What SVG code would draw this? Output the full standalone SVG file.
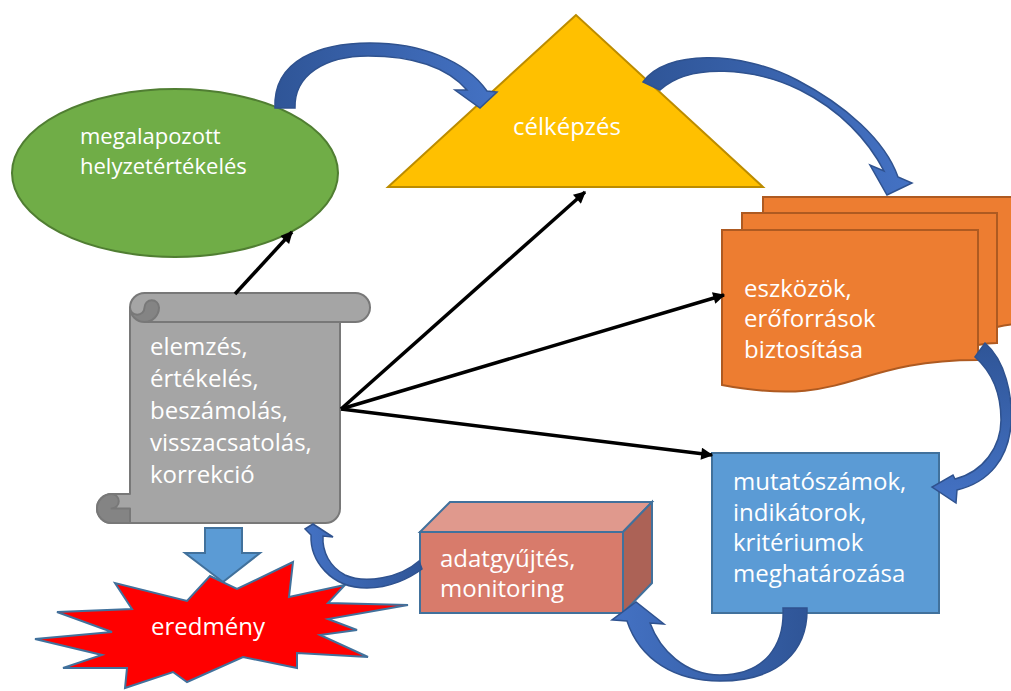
<svg xmlns="http://www.w3.org/2000/svg" width="1011" height="691" viewBox="0 0 1011 691">
<defs>
<style>
.t{font-family:"Open Sans","Liberation Sans",sans-serif;font-size:24px;fill:#ffffff}
.conn{stroke:#000;stroke-width:3.5;fill:none;marker-end:url(#ah)}
.barrow{stroke:#2F528F;stroke-width:1.5;stroke-linejoin:miter}
</style>
<marker id="ah" viewBox="0 0 10 10" refX="9" refY="5" markerWidth="14" markerHeight="12" markerUnits="userSpaceOnUse" orient="auto">
<path d="M0,0 L10,5 L0,10 Z" fill="#000"/>
</marker>
<linearGradient id="gR" x1="0" y1="0" x2="1" y2="0"><stop offset="0" stop-color="#2F5597"/><stop offset="1" stop-color="#4472C4"/></linearGradient>
<linearGradient id="gL" x1="1" y1="0" x2="0" y2="0"><stop offset="0" stop-color="#2F5597"/><stop offset="1" stop-color="#4472C4"/></linearGradient>
<linearGradient id="gD" x1="0" y1="0" x2="0" y2="1"><stop offset="0" stop-color="#2F5597"/><stop offset="1" stop-color="#4472C4"/></linearGradient>
</defs>
<rect width="1011" height="691" fill="#ffffff"/>

<g id="node-helyzetertekeles">
<ellipse cx="175" cy="173" rx="163" ry="84" fill="#70AD47" stroke="#507E32" stroke-width="2"/>
<text class="t" style="font-size:22px"><tspan x="80" y="144">megalapozott</tspan><tspan x="80" y="174">helyzetértékelés</tspan></text>
</g>

<g id="node-celkepzes">
<polygon points="576,15 388,187 763,187" fill="#FFC000" stroke="#BC8C00" stroke-width="2"/>
<text class="t" x="567" y="135" text-anchor="middle">célképzés</text>
</g>

<g id="node-eszkozok">
<path d="M763,213 L763,197 L1020,197 L1020,324 C1009,324 997,327 997,327 L997,213 Z" fill="#ED7D31" stroke="#AE5A21" stroke-width="2"/>
<path d="M742,230 L742,213 L997,213 L997,343 C987,343 978,345 978,345 L978,230 Z" fill="#ED7D31" stroke="#AE5A21" stroke-width="2"/>
<path d="M722,230 L978,230 L978,360 C850,360 850,409 722,385 Z" fill="#ED7D31" stroke="#AE5A21" stroke-width="2"/>
<text class="t"><tspan x="744" y="297">eszközök,</tspan><tspan x="744" y="327">erőforrások</tspan><tspan x="744" y="358">biztosítása</tspan></text>
</g>

<g id="node-mutatoszamok">
<rect x="712" y="453" width="227" height="160" fill="#5B9BD5" stroke="#41719C" stroke-width="2"/>
<text class="t"><tspan x="733" y="490">mutatószámok,</tspan><tspan x="733" y="521">indikátorok,</tspan><tspan x="733" y="551">kritériumok</tspan><tspan x="733" y="582">meghatározása</tspan></text>
</g>

<g id="node-adatgyujtes">
<polygon points="420,532 623,532 623,613 420,613" fill="#D87B6B" stroke="#41719C" stroke-width="2"/>
<polygon points="420,532 450,502 652,502 623,532" fill="#E0998D" stroke="#41719C" stroke-width="2"/>
<polygon points="623,532 652,502 652,583 623,613" fill="#AC6256" stroke="#41719C" stroke-width="2"/>
<text class="t"><tspan x="440" y="567">adatgyűjtés,</tspan><tspan x="440" y="597">monitoring</tspan></text>
</g>

<g id="node-elemzes">
<path d="M144.5,293 L355.5,293 A14.5,14.5 0 0 1 355.5,322 L340,322 L340,508.5 A14.5,14.5 0 0 1 325.5,523 L111.5,523 A14.5,14.5 0 0 1 111.5,494 L130,494 L130,307.5 A14.5,14.5 0 0 1 144.5,293 Z" fill="#A5A5A5" stroke="#787878" stroke-width="2" stroke-linejoin="round"/>
<path d="M144.5,322 L340,322" stroke="#787878" stroke-width="2" fill="none"/>
<path d="M130,307.5 A14.5,14.5 0 0 0 159,307.5 A7.25,7.25 0 0 0 144.5,307.5 A7.25,7.25 0 0 1 130,307.5 Z" fill="#848484" stroke="#787878" stroke-width="2" stroke-linejoin="round"/>
<path d="M111.5,523 A14.5,14.5 0 0 1 111.5,494 A7.25,7.25 0 0 1 111.5,508.5 L130,508.5 L130,523 Z" fill="#848484" stroke="#787878" stroke-width="2" stroke-linejoin="round"/>
<text class="t"><tspan x="150" y="355">elemzés,</tspan><tspan x="150" y="387">értékelés,</tspan><tspan x="150" y="419">beszámolás,</tspan><tspan x="150" y="451">visszacsatolás,</tspan><tspan x="150" y="483">korrekció</tspan></text>
</g>

<g id="node-eredmeny">
<polygon points="35,639 112,632 57,612 132,609 115,583 187,601 210,576 237,589 293,562 289,597 345,585 328,603 408,605 328,619 357,630 320,635 368,657 297,653 297,668 243,657 187,682 173,672 125,688 127,668 63,668 102,655" fill="#FF0000" stroke="#41719C" stroke-width="2" stroke-linejoin="miter"/>
<text class="t" x="208" y="635" text-anchor="middle">eredmény</text>
</g>

<g id="connectors">
<line class="conn" x1="235" y1="294" x2="292" y2="232"/>
<line class="conn" x1="341" y1="409" x2="585" y2="192"/>
<line class="conn" x1="341" y1="409" x2="724" y2="295"/>
<line class="conn" x1="341" y1="409" x2="712" y2="455"/>
<polygon points="205,528 242,528 242,553 260,553 223,582 185,553 205,553" fill="#5B9BD5" stroke="#41719C" stroke-width="2"/>
<path class="barrow" fill="url(#gR)" d="M275,108 C273,60 320,43 370,43 C420,43 465,60 487,91 L497,92 L480,108 L455,90 L467,90 C445,65 410,56 368,56 C325,56 294,75 295,108 Z"/>
<path class="barrow" fill="url(#gR)" d="M643,82 C665,50 740,50 797,80 C845,105 885,140 898,177 L912,183 L887,195 L870,165 L884,171 C868,140 840,110 800,90 C755,68 690,62 660,90 Z"/>
<path class="barrow" fill="url(#gD)" d="M985,343 C1005,360 1013,395 1011,425 C1008,458 990,482 957,490 L956,503 L932,487 L953,475 L955,479 C983,472 1001,447 1001,420 C1001,395 993,373 975,357 Z"/>
<path class="barrow" fill="url(#gL)" d="M783,608 L807,608 C808,650 780,681 720,681 C675,681 640,660 627,621 L612,620 L636,602 L664,624 L650,623 C660,650 685,675 720,675 C765,675 785,645 783,608 Z"/>
<path class="barrow" fill="url(#gL)" d="M419,561 C400,578 365,584 345,575 C330,567 322,552 323,536 L333,537 L313,524 L305,529 L311,535 C310,560 330,588 367,588 C390,588 410,578 422,569 Z"/>
</g>
</svg>
